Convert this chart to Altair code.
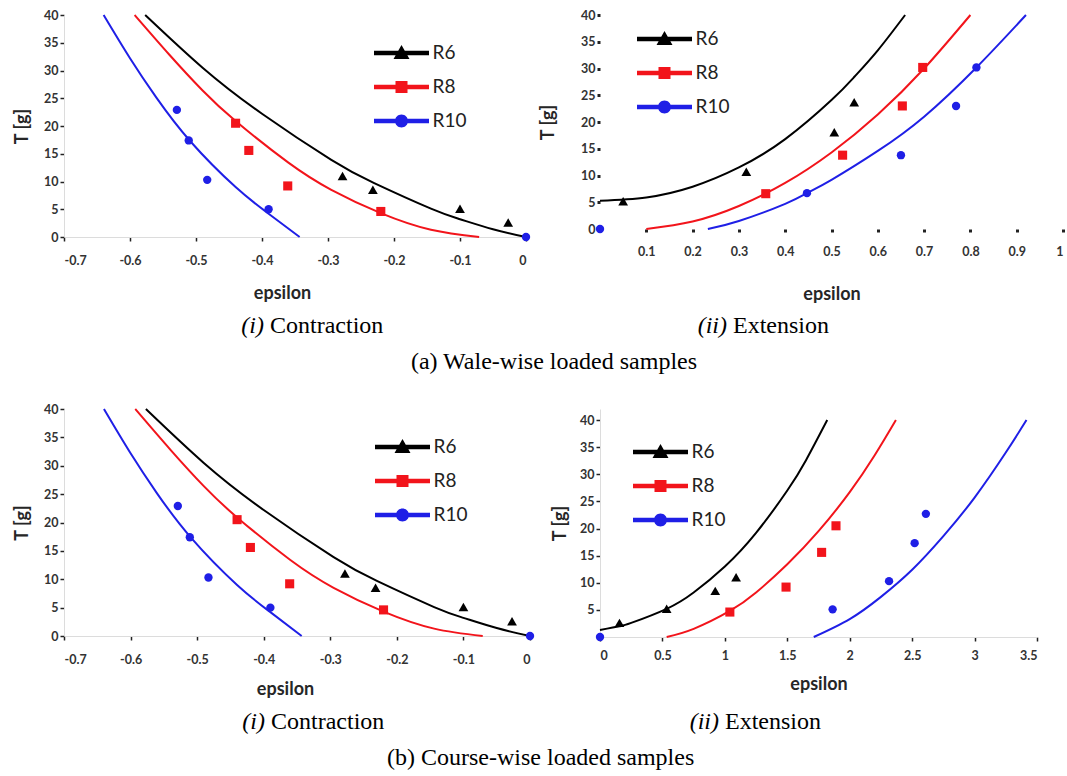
import altair as alt
import pandas as pd

SERIES = ["R6", "R8", "R10"]
LINE_COLORS = ["#000000", "#f2141b", "#1f1fe6"]
MARKERS = ["triangle-up", "square", "circle"]
MARKER_SIZES = [95, 70, 110]

# legend glyphs: a thick line segment with the series marker in its middle
LEGEND_GLYPHS = [
    "M-2.75,-0.22H2.75V0.22H-2.75Z M0,-0.8L0.8,0.6H-0.8Z",
    "M-2.75,-0.22H2.75V0.22H-2.75Z M-0.6,-0.6H0.6V0.6H-0.6Z",
    "M-2.75,-0.22H2.75V0.22H-2.75Z M-0.65,0A0.65,0.65 0 1,1 0.65,0A0.65,0.65 0 1,1 -0.65,0Z",
]

# ---- contraction (same measurements for wale-wise and course-wise) ----
con_r6_eps = [-0.278, -0.232, -0.100, -0.027]
con_r6_T = [11.0, 8.5, 5.1, 2.6]
con_r8_eps = [-0.440, -0.420, -0.361, -0.220]
con_r8_T = [20.5, 15.6, 9.2, 4.6]
con_r10_eps = [-0.529, -0.511, -0.483, -0.390, 0.0]
con_r10_T = [22.9, 17.4, 10.3, 5.0, 0.0]

con_fit_r6_eps = [-0.577, -0.49, -0.40, -0.295, -0.23, -0.144, -0.10, -0.05, 0.0]
con_fit_r6_T = [40.0, 30.5, 22.2, 13.9, 9.7, 5.1, 3.2, 1.4, 0.0]
con_fit_r8_eps = [-0.593, -0.54, -0.49, -0.44, -0.36, -0.295, -0.22, -0.144, -0.071]
con_fit_r8_T = [40.0, 32.8, 26.4, 20.9, 13.4, 8.5, 4.3, 1.3, 0.0]
con_fit_r10_eps = [-0.640, -0.600, -0.560, -0.509, -0.440, -0.390, -0.343]
con_fit_r10_T = [40.0, 32.2, 25.1, 17.3, 9.0, 4.2, 0.0]

# ---- extension, wale-wise ----
extw_r6_eps = [0.050, 0.316, 0.506, 0.549]
extw_r6_T = [5.2, 10.7, 18.1, 23.7]
extw_r8_eps = [0.358, 0.524, 0.653, 0.697]
extw_r8_T = [6.6, 13.8, 23.0, 30.2]
extw_r10_eps = [0.0, 0.447, 0.650, 0.769, 0.813]
extw_r10_T = [0.0, 6.7, 13.8, 23.0, 30.2]

extw_fit_r6_eps = [0.0, 0.1, 0.2, 0.3, 0.4, 0.5, 0.55, 0.6, 0.659]
extw_fit_r6_T = [5.3, 5.9, 7.9, 11.5, 16.8, 24.1, 28.5, 33.4, 40.0]
extw_fit_r8_eps = [0.1, 0.2, 0.3, 0.4, 0.5, 0.6, 0.7, 0.8]
extw_fit_r8_T = [0.0, 1.4, 4.3, 8.6, 14.3, 21.4, 30.0, 40.0]
extw_fit_r10_eps = [0.233, 0.3, 0.4, 0.447, 0.5, 0.6, 0.7, 0.813, 0.92]
extw_fit_r10_T = [0.0, 1.5, 4.7, 6.7, 9.2, 14.6, 21.0, 30.2, 40.0]

# ---- extension, course-wise ----
extc_r6_eps = [0.156, 0.534, 0.923, 1.090]
extc_r6_T = [2.6, 5.2, 8.5, 11.0]
extc_r8_eps = [1.040, 1.490, 1.775, 1.890]
extc_r8_T = [4.6, 9.2, 15.6, 20.5]
extc_r10_eps = [0.0, 1.863, 2.315, 2.520, 2.610]
extc_r10_T = [0.0, 5.1, 10.3, 17.3, 22.7]

extc_fit_r6_eps = [0.0, 0.156, 0.25, 0.534, 0.75, 1.0, 1.25, 1.5, 1.65, 1.82]
extc_fit_r6_T = [1.3, 2.0, 2.6, 5.2, 8.2, 13.0, 19.2, 27.0, 32.6, 40.0]
extc_fit_r8_eps = [0.534, 0.75, 1.04, 1.25, 1.5, 1.75, 2.0, 2.2, 2.37]
extc_fit_r8_T = [0.0, 1.5, 4.8, 8.2, 13.4, 19.5, 26.7, 33.5, 40.0]
extc_fit_r10_eps = [1.712, 2.0, 2.25, 2.5, 2.75, 3.0, 3.25, 3.416]
extc_fit_r10_T = [0.0, 3.3, 7.4, 12.4, 18.6, 25.7, 34.0, 40.0]

LABEL_EXPR = "(datum.value < 0 ? '-' : '') + format(abs(datum.value), '.1~f')"
SERIF = "Liberation Serif"


def frame(pairs):
    rows = []
    for name, (xs, ys) in zip(SERIES, pairs):
        for x, y in zip(xs, ys):
            rows.append({"eps": x, "T": y, "series": name})
    return pd.DataFrame(rows)


def panel(pts, fit, *, x_domain, x_ticks, y_domain, y_ticks, width, height,
          legend_x, legend_y, tag, word, tag_x, word_x, cap_y,
          x_title_x=None, y_title_pad=12, x_label_pad=8, x_title_pad=14,
          tick_w=1.5, tick_size=4, show_domain=True):
    x_axis_kw = dict(values=x_ticks, title="epsilon", labelExpr=LABEL_EXPR,
                     tickSize=tick_size, tickWidth=tick_w, labelPadding=x_label_pad,
                     titlePadding=x_title_pad, domain=show_domain)
    if x_title_x is not None:
        x_axis_kw["titleX"] = x_title_x
    x = alt.X("eps:Q", scale=alt.Scale(domain=x_domain, nice=False, zero=False),
              axis=alt.Axis(**x_axis_kw))
    y = alt.Y("T:Q", scale=alt.Scale(domain=y_domain, nice=False, zero=False),
              axis=alt.Axis(values=y_ticks, title="T [g]", tickSize=tick_size,
                            tickWidth=tick_w, labelPadding=2,
                            titlePadding=y_title_pad, domain=show_domain))
    color_scale = alt.Scale(domain=SERIES, range=LINE_COLORS)

    lines = alt.Chart(frame(fit)).mark_line(strokeWidth=2, interpolate="natural").encode(
        x=x, y=y, color=alt.Color("series:N", scale=color_scale, legend=None),
        detail="series:N")

    points = alt.Chart(frame(pts)).mark_point(filled=True, opacity=1).encode(
        x=x, y=y,
        color=alt.Color("series:N", scale=color_scale, legend=None),
        shape=alt.Shape("series:N", scale=alt.Scale(domain=SERIES, range=MARKERS), legend=None),
        size=alt.Size("series:N", scale=alt.Scale(domain=SERIES, range=MARKER_SIZES), legend=None))

    leg = alt.Legend(orient="none", legendX=legend_x, legendY=legend_y, title=None,
                     symbolSize=400, symbolStrokeWidth=0, symbolOffset=17.5,
                     symbolOpacity=1, labelOffset=21, labelFont="Lato", labelFontSize=19,
                     labelColor="#222222", rowPadding=14, padding=0)
    legend_layer = alt.Chart(frame(pts)).mark_point(filled=True, opacity=1).encode(
        x=x, y=y,
        color=alt.Color("series:N", scale=color_scale, legend=leg),
        shape=alt.Shape("series:N", scale=alt.Scale(domain=SERIES, range=LEGEND_GLYPHS), legend=leg),
    ).transform_filter("false")

    cap = pd.DataFrame({"k": [0]})
    tag_mark = alt.Chart(cap).mark_text(
        text=tag, font=SERIF, fontSize=24, fontStyle="italic", align="right",
        baseline="middle", color="black").encode(x=alt.value(tag_x), y=alt.value(cap_y))
    word_mark = alt.Chart(cap).mark_text(
        text=word, font=SERIF, fontSize=24, align="left",
        baseline="middle", color="black").encode(x=alt.value(word_x), y=alt.value(cap_y))

    return alt.layer(lines, points, legend_layer, tag_mark, word_mark).resolve_scale(
        shape="independent", color="independent", size="independent"
    ).properties(width=width, height=height)


con_pts = [(con_r6_eps, con_r6_T), (con_r8_eps, con_r8_T), (con_r10_eps, con_r10_T)]
con_fit = [(con_fit_r6_eps, con_fit_r6_T), (con_fit_r8_eps, con_fit_r8_T),
           (con_fit_r10_eps, con_fit_r10_T)]
con_ticks = [-0.7, -0.6, -0.5, -0.4, -0.3, -0.2, -0.1, 0.0]
t_ticks = [0, 5, 10, 15, 20, 25, 30, 35, 40]

a1 = panel(con_pts, con_fit, x_domain=[-0.7, 0.0], x_ticks=con_ticks,
           y_domain=[0, 40], y_ticks=t_ticks, width=462, height=222,
           legend_x=310, legend_y=28, tag="(i)", word="Contraction",
           tag_x=200, word_x=206, cap_y=311, x_title_x=218,
           x_label_pad=13, x_title_pad=18)

a2 = panel([(extw_r6_eps, extw_r6_T), (extw_r8_eps, extw_r8_T), (extw_r10_eps, extw_r10_T)],
           [(extw_fit_r6_eps, extw_fit_r6_T), (extw_fit_r8_eps, extw_fit_r8_T),
            (extw_fit_r10_eps, extw_fit_r10_T)],
           x_domain=[0.0, 1.0], x_ticks=[0.1, 0.2, 0.3, 0.4, 0.5, 0.6, 0.7, 0.8, 0.9, 1.0],
           y_domain=[0, 40], y_ticks=t_ticks, width=463, height=214,
           legend_x=37, legend_y=14, tag="(ii)", word="Extension",
           tag_x=127, word_x=133, cap_y=311, tick_w=3, tick_size=3, y_title_pad=23,
           x_label_pad=13, x_title_pad=28, show_domain=False)

b1 = panel(con_pts, con_fit, x_domain=[-0.7, 0.0], x_ticks=con_ticks,
           y_domain=[0, 40], y_ticks=t_ticks, width=466, height=227,
           legend_x=311, legend_y=28, tag="(i)", word="Contraction",
           tag_x=201, word_x=207, cap_y=313, x_title_x=221,
           x_label_pad=13, x_title_pad=15)

b2 = panel([(extc_r6_eps, extc_r6_T), (extc_r8_eps, extc_r8_T), (extc_r10_eps, extc_r10_T)],
           [(extc_fit_r6_eps, extc_fit_r6_T), (extc_fit_r8_eps, extc_fit_r8_T),
            (extc_fit_r10_eps, extc_fit_r10_T)],
           x_domain=[0.0, 3.5], x_ticks=[0, 0.5, 1, 1.5, 2, 2.5, 3, 3.5],
           y_domain=[0, 42.03], y_ticks=[5, 10, 15, 20, 25, 30, 35, 40], width=437, height=228,
           legend_x=33, legend_y=33, tag="(ii)", word="Extension",
           tag_x=119, word_x=125, cap_y=313, y_title_pad=10)


def row_title(text):
    return alt.TitleParams(text=text, orient="bottom", anchor="middle", font=SERIF,
                           fontSize=24, fontWeight="normal", color="black",
                           offset=12, dx=15)


row_a = alt.hconcat(a1, a2, spacing=8, title=row_title("(a) Wale-wise loaded samples"))
row_b = alt.hconcat(b1, b2, spacing=16, title=row_title("(b) Course-wise loaded samples"))

chart = alt.vconcat(row_a, row_b, spacing=29).properties(
    padding={"left": 13, "top": 9, "right": 0, "bottom": 0},
    background="white",
).configure_view(strokeWidth=0).configure_axis(
    grid=False,
    labelFont="Lato", labelFontWeight="bold", labelFontSize=12.5, labelColor="#333333",
    titleFont="Lato", titleFontWeight="bold", titleFontSize=18, titleColor="#262626",
    domainColor="#dcdcdc", tickColor="#222222",
)

chart.save("out.html", embed_options={"renderer": "svg", "actions": False})
